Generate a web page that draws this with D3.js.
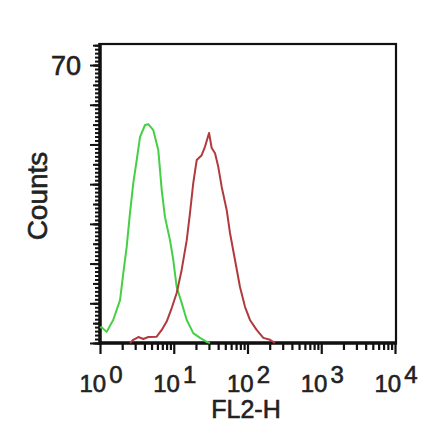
<!DOCTYPE html>
<html lang="en">
<head>
    <meta charset="UTF-8">
    <title>FL2-H histogram</title>
    <script src="https://d3js.org/d3.v7.min.js"></script>
    <style>
        body { margin: 0; background: #fff; }
        text { font-family: "Liberation Sans", Arial, sans-serif; fill: #222; stroke: #222; stroke-width: 0.6px; }
    </style>
</head>
<body>
    <svg width="440" height="441" id="mainsvg"></svg>

    <script>
        // isotype control (green) and stained sample (red), FL2-H value vs counts
        const greenFL2 = [1.00, 1.05, 1.23, 1.51, 1.87, 2.07, 2.30, 2.55, 2.83, 3.15, 3.49, 4.08, 4.52, 5.28, 6.17, 6.87, 7.61, 8.89, 9.86, 10.96, 12.8, 15.0, 18.4, 22.7, 28.0, 31.0];
        const greenCounts = [3.8, 4.0, 2.8, 5.8, 10.8, 17.6, 24.2, 32.7, 40.3, 46.1, 51.9, 54.9, 55.1, 53.6, 48.6, 38.5, 31.7, 25.9, 20.9, 14.1, 10.1, 5.8, 2.5, 1.3, 0.3, 0];
        const redFL2 = [2.55, 2.83, 3.31, 3.87, 4.52, 5.87, 6.87, 8.02, 9.38, 10.96, 12.8, 15.0, 16.6, 18.4, 20.5, 23.9, 26.5, 30.1, 32.7, 36.3, 40.2, 44.7, 52.2, 57.9, 67.7, 79.1, 92.5, 108, 133, 164, 202, 236];
        const redCounts = [0, 0.8, 1.5, 1.0, 1.5, 1.6, 3.3, 5.4, 8.8, 12.6, 18.4, 25.9, 32.7, 40.3, 46.1, 47.3, 49.4, 52.9, 49.1, 47.8, 44.3, 39.3, 33.5, 27.7, 20.9, 14.1, 9.1, 5.8, 3.3, 1.3, 0.8, 0];
        const xDecades = [0, 1, 2, 3, 4];
        const yLabels = [70];

        const svg = d3.select('#mainsvg');
        const plotLeft = 100, plotRight = 396, plotTop = 44, plotBottom = 343;

        const xScale = d3.scaleLog().domain([1, 10000]).range([plotLeft, 395]);
        const yScale = d3.scaleLinear().domain([0, 75.3]).range([plotBottom, plotTop]);

        // ticks
        const majorX = xDecades.map(e => Math.pow(10, e));
        const minorX = [];
        xDecades.slice(0, -1).forEach(e => {
            for (let k = 2; k < 10; k++) minorX.push(k * Math.pow(10, e));
        });

        const gx = svg.append('g').attr('transform', `translate(0,${plotBottom})`);
        gx.append('g').call(d3.axisBottom(xScale).tickValues(minorX).tickSize(7).tickFormat(''));
        gx.append('g').call(d3.axisBottom(xScale).tickValues(majorX).tickSize(11).tickFormat(''));
        gx.selectAll('.domain').remove();
        gx.selectAll('line').attr('stroke', '#111').attr('stroke-width', 2.2);

        const gy = svg.append('g').attr('transform', `translate(${plotLeft},0)`);
        gy.append('g').call(d3.axisLeft(yScale).tickValues(d3.range(0, 76, 1)).tickSize(5).tickFormat(''));
        gy.append('g').call(d3.axisLeft(yScale).tickValues(d3.range(0, 76, 5)).tickSize(7).tickFormat(''));
        gy.append('g').call(d3.axisLeft(yScale).tickValues(d3.range(0, 76, 10)).tickSize(10).tickFormat(''));
        gy.selectAll('.domain').remove();
        gy.selectAll('line').attr('stroke', '#111').attr('stroke-width', 2);

        // frame
        svg.append('rect')
            .attr('x', plotLeft).attr('y', plotTop)
            .attr('width', plotRight - plotLeft).attr('height', plotBottom - plotTop)
            .attr('fill', 'none').attr('stroke', '#111').attr('stroke-width', 2.2);
        svg.append('line').attr('x1', plotLeft).attr('x2', plotLeft).attr('y1', plotTop - 1).attr('y2', plotBottom + 2)
            .attr('stroke', '#111').attr('stroke-width', 3.5);
        svg.append('line').attr('x1', plotLeft - 1).attr('x2', plotRight + 1).attr('y1', plotBottom).attr('y2', plotBottom)
            .attr('stroke', '#111').attr('stroke-width', 3.5);

        // histograms
        const line = d3.line().x(d => xScale(d[0])).y(d => yScale(d[1]));
        svg.append('path')
            .attr('d', line(greenFL2.map((v, i) => [v, greenCounts[i]])))
            .attr('fill', 'none').attr('stroke', '#45cf45').attr('stroke-width', 2)
            .attr('stroke-linejoin', 'round');
        svg.append('path')
            .attr('d', line(redFL2.map((v, i) => [v, redCounts[i]])))
            .attr('fill', 'none').attr('stroke', '#b03a3c').attr('stroke-width', 2)
            .attr('stroke-linejoin', 'round');

        // x tick labels 10^n
        xDecades.forEach(e => {
            const t = svg.append('text')
                .attr('x', xScale(Math.pow(10, e)) + 1)
                .attr('y', 392)
                .attr('text-anchor', 'middle')
                .attr('font-size', '24px');
            t.append('tspan').text('10');
            t.append('tspan').attr('dx', 3).attr('dy', -9).text(e);
        });

        yLabels.forEach(v => {
            svg.append('text')
                .attr('x', 81).attr('y', yScale(v) + 10)
                .attr('text-anchor', 'end')
                .attr('font-size', '27px')
                .text(v);
        });

        svg.append('text')
            .attr('x', 246).attr('y', 418)
            .attr('text-anchor', 'middle')
            .attr('font-size', '25px')
            .text('FL2-H');

        svg.append('text')
            .attr('transform', 'translate(47,196) rotate(-90)')
            .attr('text-anchor', 'middle')
            .attr('font-size', '28px')
            .text('Counts');
    </script>
</body>
</html>
